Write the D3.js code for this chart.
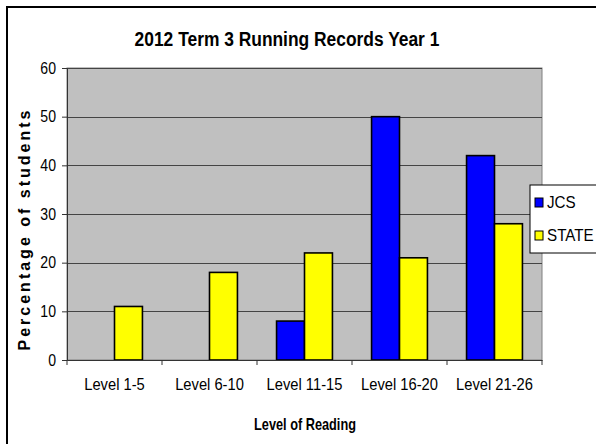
<!DOCTYPE html>
<html>
<head>
<meta charset="utf-8">
<script src="https://cdn.jsdelivr.net/npm/d3@7"></script>
<style>
  body { margin: 0; background: #fff; }
  svg { display: block; font-family: "Liberation Sans", Arial, sans-serif; }
</style>
</head>
<body>
<svg id="chart" width="596" height="444"></svg>
<script>
var categories = ["Level 1-5", "Level 6-10", "Level 11-15", "Level 16-20", "Level 21-26"];
var seriesNames = ["JCS", "STATE"];
var jcsValues = [0, 0, 8, 50, 42];
var stateValues = [11, 18, 22, 21, 28];
var yTickValues = [0, 10, 20, 30, 40, 50, 60];
var colours = ["#0000ff", "#ffff00"];

var svg = d3.select("#chart");
var plot = {left: 67, right: 542, top: 68, bottom: 360};

// the picture is squeezed sideways, so text gets a horizontal scale
var squeeze = function (sel, sx) {
	return sel.attr("transform", function () {
		var t = d3.select(this).attr("data-pos");
		return t + " scale(" + sx + ",1)";
	});
};

var x0 = d3.scaleBand().domain(categories).range([plot.left, plot.right]).padding(0);
var x1 = d3.scaleBand().domain(seriesNames).range([0, x0.bandwidth()]).paddingInner(0).paddingOuter(0.7);
var y = d3.scaleLinear().domain([0, 60]).range([plot.bottom, plot.top]);

var rows = categories.map(function (c, i) {
	return {cat: c, vals: [jcsValues[i], stateValues[i]]};
});

// outer chart frame
svg.append("rect")
	.attr("x", 7).attr("y", 7)
	.attr("width", 620).attr("height", 460)
	.attr("fill", "none").attr("stroke", "#000").attr("stroke-width", 2);

// plot background
svg.append("rect")
	.attr("x", plot.left).attr("y", plot.top)
	.attr("width", plot.right - plot.left).attr("height", plot.bottom - plot.top)
	.attr("fill", "#c0c0c0").attr("stroke", "#808080").attr("stroke-width", 1);

// gridlines
svg.append("g").selectAll("line").data(yTickValues.slice(1))
	.enter().append("line")
	.attr("x1", plot.left).attr("x2", plot.right)
	.attr("y1", function (d) { return Math.round(y(d)) + 0.5; })
	.attr("y2", function (d) { return Math.round(y(d)) + 0.5; })
	.attr("stroke", "#444").attr("stroke-width", 1);

// bars
var groups = svg.append("g").selectAll("g").data(rows)
	.enter().append("g")
	.attr("transform", function (d) { return "translate(" + x0(d.cat) + ",0)"; });

groups.selectAll("rect").data(function (d) {
	return d.vals.map(function (v, i) { return {name: seriesNames[i], value: v, colour: colours[i]}; });
}).enter().filter(function (d) { return d.value > 0; })
	.append("rect")
	.attr("x", function (d) { return x1(d.name); })
	.attr("y", function (d) { return y(d.value); })
	.attr("width", x1.bandwidth())
	.attr("height", function (d) { return y(0) - y(d.value); })
	.attr("fill", function (d) { return d.colour; })
	.attr("stroke", "#000").attr("stroke-width", 1.6);

// y axis
var yAxis = svg.append("g")
	.attr("transform", "translate(" + plot.left + ",0)")
	.call(d3.axisLeft(y).tickValues(yTickValues).tickSize(5).tickPadding(7));
yAxis.select(".domain").attr("stroke", "#333");
yAxis.selectAll(".tick line").attr("stroke", "#333");
yAxis.selectAll(".tick text")
	.attr("font-size", 16).attr("fill", "#000")
	.attr("font-family", "Liberation Sans, Arial, sans-serif")
	.attr("x", -11 / 0.88)
	.attr("transform", "scale(0.88,1)");

// x axis
var xAxis = svg.append("g")
	.attr("transform", "translate(0," + plot.bottom + ")")
	.call(d3.axisBottom(x0).tickSize(0).tickPadding(19));
xAxis.select(".domain").attr("stroke", "#333");
xAxis.selectAll(".tick text")
	.attr("font-size", 16).attr("fill", "#000")
	.attr("font-family", "Liberation Sans, Arial, sans-serif")
	.attr("transform", "scale(0.92,1)");
// boundary ticks between categories
svg.append("g").selectAll("line").data(categories.concat(["end"]))
	.enter().append("line")
	.attr("x1", function (d, i) { return plot.left + i * x0.step(); })
	.attr("x2", function (d, i) { return plot.left + i * x0.step(); })
	.attr("y1", plot.bottom).attr("y2", plot.bottom + 5)
	.attr("stroke", "#333");

// title
svg.append("text")
	.attr("data-pos", "translate(287,46)")
	.attr("text-anchor", "middle")
	.attr("font-size", 20).attr("font-weight", "bold")
	.text("2012 Term 3 Running Records Year 1")
	.call(squeeze, 0.87);

// axis titles
svg.append("text")
	.attr("data-pos", "translate(305,430)")
	.attr("text-anchor", "middle")
	.attr("font-size", 17).attr("font-weight", "bold")
	.text("Level of Reading")
	.call(squeeze, 0.75);

svg.append("text")
	.attr("transform", "translate(30,229) rotate(-90)")
	.attr("text-anchor", "middle")
	.attr("font-size", 16).attr("font-weight", "bold")
	.attr("letter-spacing", 3)
	.text("Percentage of students");

// legend
var legend = svg.append("g").attr("transform", "translate(530,185)");
legend.append("rect")
	.attr("width", 90).attr("height", 68)
	.attr("fill", "#fff").attr("stroke", "#000").attr("stroke-width", 1);
var items = legend.selectAll("g").data(seriesNames)
	.enter().append("g")
	.attr("transform", function (d, i) { return "translate(5," + (13 + i * 33) + ")"; });
items.append("rect")
	.attr("width", 8).attr("height", 9)
	.attr("fill", function (d, i) { return colours[i]; })
	.attr("stroke", "#000").attr("stroke-width", 1);
items.append("text")
	.attr("data-pos", "translate(12,10)")
	.attr("font-size", 16)
	.text(function (d) { return d; })
	.call(squeeze, 0.95);
</script>
</body>
</html>
